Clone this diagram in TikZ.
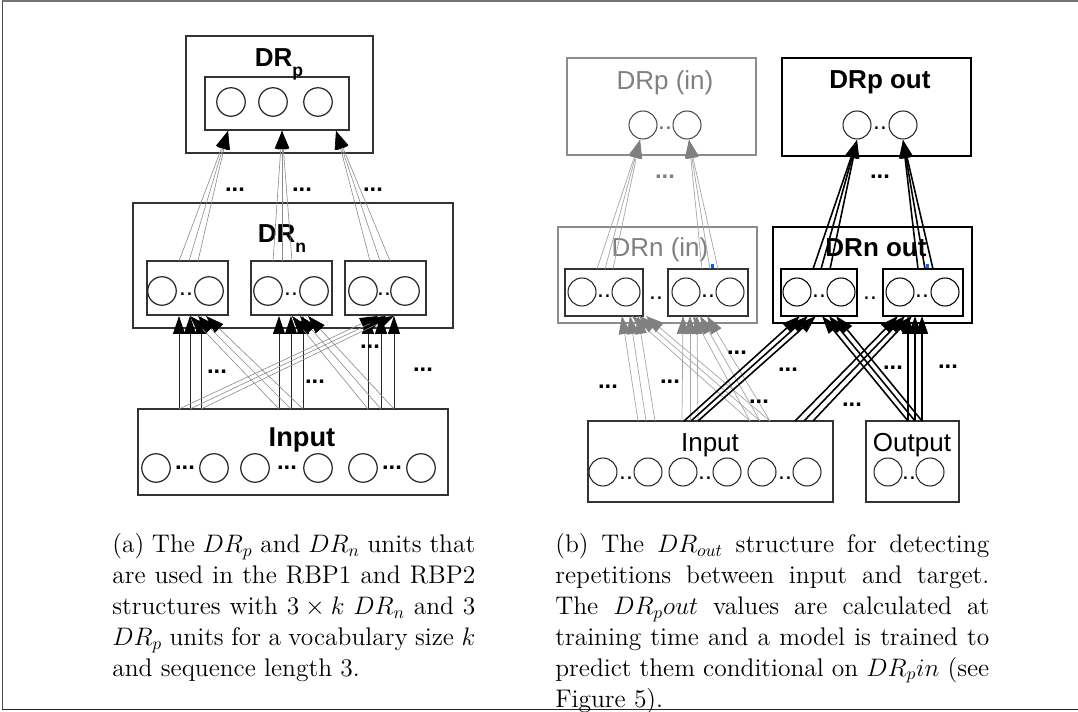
\documentclass[tikz,border=0pt]{standalone}
\usepackage{fontspec}
\newfontfamily\arial{Liberation Sans}
\usetikzlibrary{arrows.meta,fit}
\begin{document}
\begin{tikzpicture}[x=0.02cm,y=-0.02cm,
  box/.style={draw=black!80, line width=0.6pt, inner sep=0pt},
  gbox/.style={draw=black!45, line width=0.6pt, inner sep=0pt},
  kbox/.style={draw=black, line width=1.1pt, inner sep=0pt},
  unitL/.style={circle, draw=black!85, line width=0.7pt, minimum size=0.57cm, inner sep=0pt},
  unitR/.style={circle, draw=black!85, line width=0.6pt, minimum size=0.56cm, inner sep=0pt},
  lbl/.style={font=\arial\fontsize{14.8}{16}\selectfont, inner sep=0pt, anchor=base},
  blbl/.style={font=\arial\bfseries\fontsize{14.8}{16}\selectfont, inner sep=0pt, anchor=base},
  dots/.style={font=\arial\bfseries\fontsize{13.5}{14}\selectfont, inner sep=0pt},
  sdots/.style={font=\arial\fontsize{14}{14}\selectfont, inner sep=0pt},
  tipk/.style={-{Triangle[length=0.36cm,width=0.24cm,color=black]}},
  thinline/.style={draw=black!45, line width=0.35pt, tipk},
  vline/.style={draw=black!85, line width=0.5pt, tipk},
  greyline/.style={draw=black!35, line width=0.4pt, -{Triangle[length=0.36cm,width=0.24cm,color=black!50]}},
  blackline/.style={draw=black, line width=0.9pt, tipk},
  captxt/.style={anchor=north west, inner sep=0pt, align=justify, font=\fontsize{14.5}{17.6}\selectfont}]
\useasboundingbox (0,0) rectangle (1078,712);
% outer frame
\draw[black!55, line width=0.8pt] (2,1) -- (1078,1);
\draw[black!70, line width=0.8pt] (2.5,1) -- (2.5,710);
\draw[black!85, line width=1pt] (2,709.5) -- (1078,709.5);

% ================= (a) =================
\node[box, fit={(186,36) (373,153)}] (drpo) {};
\node[box, fit={(205,77) (349,130)}] (drpi) {};
\node[unitL] (p1) at (231,102) {};
\node[unitL] (p2) at (273,102) {};
\node[unitL] (p3) at (318,102) {};
\node[blbl] (drplab) at (279,67) {DR\raisebox{-0.35em}{\fontsize{10}{10}\selectfont p}};

\node[box, fit={(133,203) (453,328)}] (drn) {};
\node[blbl] (drnlab) at (282,243) {DR\raisebox{-0.35em}{\fontsize{10}{10}\selectfont n}};
\node[box, fit={(147,261) (228,315)}] (n1) {};
\node[box, fit={(251,261) (332,315)}] (n2) {};
\node[box, fit={(345,261) (426,315)}] (n3) {};
\foreach \nm/\x in {n1a/162,n1b/209,n2a/268,n2b/314,n3a/363,n3b/405}
  \node[unitL] (\nm) at (\x,291) {};
\foreach \nm/\x in {n1d/186,n2d/291,n3d/384}
  \node[sdots] (\nm) at (\x,294) {..};

\node[box, fit={(138,409) (448,495)}] (inA) {};
\node[blbl, font=\arial\bfseries\fontsize{15.5}{16}\selectfont] (inAlab) at (302,447) {Input};
\foreach \nm/\x in {i1/156,i2/214,i3/255,i4/318,i5/363,i6/421}
  \node[unitL] (\nm) at (\x,468) {};
\foreach \nm/\x in {i12/185,i34/287,i56/392}
  \node[dots] (\nm) at (\x,468) {...};

% upper connectors (a)
\coordinate (ta1) at (228,131);
\coordinate (ta2) at (282,131);
\coordinate (ta3) at (336,131);
\foreach \k/\x in {1/179,2/189,3/198}{\coordinate (ua\k) at (\x,261); \draw[thinline] (ua\k) -- (ta1);}
\foreach \k/\x in {1/273,2/282,3/292}{\coordinate (ub\k) at (\x,261); \draw[thinline] (ub\k) -- (ta2);}
\foreach \k/\x in {1/370,2/380,3/390}{\coordinate (uc\k) at (\x,261); \draw[thinline] (uc\k) -- (ta3);}
\node[dots] (da1) at (235,190) {...};
\node[dots] (da2) at (302,190) {...};
\node[dots] (da3) at (373,190) {...};

% lower connectors (a)
\foreach \k/\x in {1/179,2/190,3/201}{
  \coordinate (ga\k) at (\x,409); \coordinate (va\k) at (\x,316);
  \draw[vline] (ga\k) -- (va\k);}
\foreach \k/\x in {1/279,2/291,3/303}{
  \coordinate (gb\k) at (\x,409); \coordinate (vb\k) at (\x,316);
  \draw[vline] (gb\k) -- (vb\k);}
\foreach \k/\x in {1/368,2/381,3/394}{
  \coordinate (gc\k) at (\x,409); \coordinate (vc\k) at (\x,316);
  \draw[vline] (gc\k) -- (vc\k);}
\foreach \k/\x in {1/190,2/198,3/206}{\coordinate (xa\k) at (\x,316); \draw[thinline] (gb\k) -- (xa\k);}
\foreach \k/\x in {1/292,2/300,3/308}{\coordinate (xb\k) at (\x,316); \draw[thinline] (gc\k) -- (xb\k);}
\foreach \k/\x in {1/378,2/386,3/394}{\coordinate (xc\k) at (\x,316); \draw[thinline] (ga\k) -- (xc\k);}
\node[dots] (dl1) at (217,372) {...};
\node[dots] (dl2) at (315,382) {...};
\node[dots] (dl3) at (370,347) {...};
\node[dots] (dl4) at (423,370) {...};

% ================= (b) =================
\node[gbox, fit={(567,58) (756,155)}] (rpi) {};
\node[lbl, text=black!50] (rpilab) at (665,90) {DRp (in)};
\node[unitR, draw=black!70] (rpi1) at (643,125) {};
\node[unitR, draw=black!70] (rpi2) at (687,125) {};
\node[sdots, text=black!60] (rpid) at (665,128) {..};
\node[kbox, fit={(782,58) (971,156)}] (rpo) {};
\node[blbl] (rpolab) at (880,89) {DRp out};
\node[unitR] (rpo1) at (857,125) {};
\node[unitR] (rpo2) at (903,125) {};
\node[sdots] (rpod) at (880,128) {..};
\node[dots, text=black!50] (dgr) at (665,177) {...};
\node[dots] (dbk) at (880,177) {...};

\node[gbox, fit={(558,227) (757,323)}] (rni) {};
\node[lbl, text=black!50] (rnilab) at (660,257) {DRn (in)};
\node[box, fit={(565,269) (643,316)}] (rni1) {};
\node[box, fit={(668,269) (748,316)}] (rni2) {};
\foreach \nm/\x in {c1/582,c2/626,c3/686,c4/730}
  \node[unitR] (\nm) at (\x,292) {};
\node[sdots] (rnid1) at (604,296) {..};
\node[sdots] (rnid2) at (708,296) {..};
\node[sdots] (rnid3) at (656,298) {..};

\node[kbox, fit={(773,227) (972,323)}] (rno) {};
\node[blbl] (rnolab) at (876,257) {DRn out};
\node[kbox, line width=0.8pt, fit={(781,269) (857,316)}] (rno1) {};
\node[kbox, line width=0.8pt, fit={(883,269) (963,316)}] (rno2) {};
\foreach \nm/\x in {d1/797,d2/841,d3/900,d4/945}
  \node[unitR, draw=black] (\nm) at (\x,292) {};
\node[sdots] (rnod1) at (819,296) {..};
\node[sdots] (rnod2) at (922,296) {..};
\node[sdots] (rnod3) at (870,298) {..};
\fill[blue!60!cyan] (710.5,264.5) rectangle (714,268.5);
\fill[blue!60!cyan] (925.5,264.5) rectangle (929,268.5);

\node[box, fit={(588,421) (833,502)}] (inB) {};
\node[lbl] (inBlab) at (710,452) {Input};
\foreach \nm/\x in {j1/603,j2/648,j3/683,j4/727,j5/762,j6/807}
  \node[unitR] (\nm) at (\x,472) {};
\foreach \nm/\x in {j12/626,j34/705,j56/785}
  \node[sdots] (\nm) at (\x,478) {..};
\node[box, fit={(866,421) (959,502)}] (outB) {};
\node[lbl] (outBlab) at (912,452) {Output};
\node[unitR] (o1) at (888,472) {};
\node[unitR] (o2) at (930,472) {};
\node[sdots] (o12) at (909,478) {..};

% upper connectors (b)
\coordinate (tg1) at (640,140);
\coordinate (tg2) at (689,140);
\coordinate (tk1) at (857,140);
\coordinate (tk2) at (903,140);
\foreach \k/\x in {1/597,2/605,3/613}{\coordinate (sg1\k) at (\x,269); \draw[greyline] (sg1\k) -- (tg1);}
\foreach \k/\x in {1/702,2/710,3/718}{\coordinate (sg2\k) at (\x,269); \draw[greyline] (sg2\k) -- (tg2);}
\foreach \k/\x in {1/813,2/821,3/830}{\coordinate (sk1\k) at (\x,269); \draw[blackline] (sk1\k) -- (tk1);}
\foreach \k/\x in {1/918,2/925,3/933}{\coordinate (sk2\k) at (\x,269); \draw[blackline] (sk2\k) -- (tk2);}

% lower connectors (b), grey
\foreach \k/\x/\t in {1/638/622,2/646/630,3/655/638}{
  \coordinate (bg1\k) at (\x,421); \coordinate (eg1\k) at (\t,316); \draw[greyline] (bg1\k) -- (eg1\k);}
\foreach \k/\x/\t in {1/750/632,2/760/639,3/770/646}{
  \coordinate (bg3\k) at (\x,421); \coordinate (eg3\k) at (\t,316); \draw[greyline] (bg3\k) -- (eg3\k);}
\foreach \k/\x/\t in {1/682/683,2/690/690,3/698/697}{
  \coordinate (bg2\k) at (\x,421); \coordinate (eg2\k) at (\t,316); \draw[greyline] (bg2\k) -- (eg2\k);}
\foreach \k/\t in {1/693,2/700,3/707}{
  \coordinate (eg4\k) at (\t,316); \draw[greyline] (bg3\k) -- (eg4\k);}

% lower connectors (b), black
\foreach \k/\x/\t in {1/684/800,2/691/808,3/698/816}{
  \coordinate (bk1\k) at (\x,421); \coordinate (ek1\k) at (\t,316); \draw[blackline] (bk1\k) -- (ek1\k);}
\foreach \k/\x/\t in {1/908/822,2/915/829,3/922/836}{
  \coordinate (bo\k) at (\x,421); \coordinate (ek2\k) at (\t,316); \draw[blackline] (bo\k) -- (ek2\k);}
\foreach \k/\x/\t in {1/795/898,2/804/905,3/813/912}{
  \coordinate (bk3\k) at (\x,421); \coordinate (ek3\k) at (\t,316); \draw[blackline] (bk3\k) -- (ek3\k);}
\foreach \k/\t in {1/908,2/915,3/922}{
  \coordinate (ek4\k) at (\t,316); \draw[blackline] (bo\k) -- (ek4\k);}

\node[dots] (r1) at (608,387) {...};
\node[dots] (r2) at (670,382) {...};
\node[dots] (r3) at (737,353) {...};
\node[dots] (r4) at (759,402) {...};
\node[dots] (r5) at (788,370) {...};
\node[dots] (r6) at (852,405) {...};
\node[dots] (r7) at (893,368) {...};
\node[dots] (r8) at (948,367) {...};

% captions
\node[captxt, text width=7.26cm] (capa) at (112,533) {(a) The $DR_p$ and $DR_n$ units that\linebreak
are used in the RBP1 and RBP2\linebreak
structures with $3\times k$ $DR_n$ and 3\linebreak
$DR_p$ units for a vocabulary size $k$\linebreak
and sequence length 3.};
\node[captxt, text width=8.68cm] (capb) at (555,533) {(b) The $DR_{out}$ structure for detecting\linebreak
repetitions between input and target.\linebreak
The $DR_pout$ values are calculated at\linebreak
training time and a model is trained to\linebreak
predict them conditional on $DR_pin$ (see\linebreak
Figure 5).};
\end{tikzpicture}
\end{document}
